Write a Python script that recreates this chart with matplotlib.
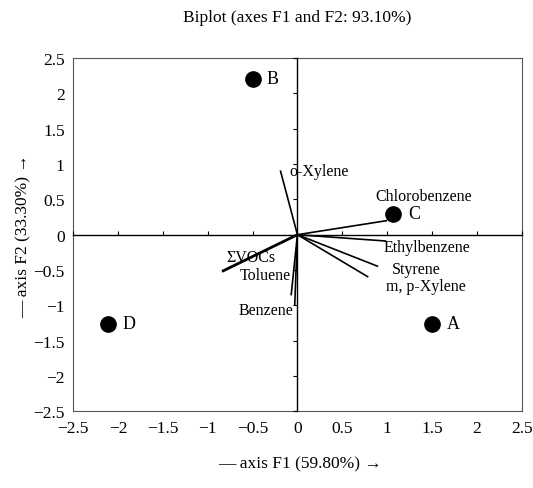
import matplotlib
matplotlib.use("Agg")
import matplotlib.pyplot as plt

plt.rcParams["font.family"] = ["Liberation Serif", "DejaVu Serif"]

# --- observations (scores) ---------------------------------------------
obs_names = ["A", "B", "C", "D"]
obs_f1 = [1.50, -0.50, 1.07, -2.11]
obs_f2 = [-1.26, 2.21, 0.30, -1.26]

# --- variables (loadings) ----------------------------------------------
var_names = ["o-Xylene", "Chlorobenzene", "Ethylbenzene", "Styrene",
             "m, p-Xylene", "ΣVOCs", "Toluene", "Benzene"]
var_f1 = [-0.19, 1.00, 0.99, 0.90, 0.79, -0.84, -0.07, -0.03]
var_f2 = [0.91, 0.20, -0.09, -0.45, -0.60, -0.52, -0.86, -1.00]
var_width = [1.2, 1.2, 1.2, 1.2, 1.2, 2.0, 1.2, 1.2]

ticks = [-2.5, -2, -1.5, -1, -0.5, 0, 0.5, 1, 1.5, 2, 2.5]
tick_labels = ["−2.5", "−2", "−1.5", "−1", "−0.5", "0", "0.5", "1", "1.5", "2", "2.5"]

# label placement (data coords, ha)
var_label_pos = {
    "o-Xylene": (-0.09, 0.90, "left"),
    "Chlorobenzene": (0.87, 0.55, "left"),
    "Ethylbenzene": (0.96, -0.17, "left"),
    "Styrene": (1.05, -0.48, "left"),
    "m, p-Xylene": (0.99, -0.73, "left"),
    "ΣVOCs": (-0.24, -0.31, "right"),
    "Toluene": (-0.07, -0.57, "right"),
    "Benzene": (-0.04, -1.06, "right"),
}

fig = plt.figure(figsize=(5.33, 4.89), dpi=100)
rect = [0.137, 0.157, 0.842, 0.722]
ax = fig.add_axes(rect)
ax.set_xlim(-2.5, 2.5)
ax.set_ylim(-2.5, 2.5)
ax.set_xticks(ticks)
ax.set_xticklabels(tick_labels)
ax.set_yticks(ticks)
ax.set_yticklabels(tick_labels)
ax.tick_params(length=0, labelsize=12.5, pad=6)
for s in ax.spines.values():
    s.set_color("#555555")
    s.set_linewidth(0.8)
    s.set_linestyle((0, (3, 1)))

# overlay axes with spines through the origin
ax0 = fig.add_axes(rect, sharex=ax, sharey=ax)
ax0.patch.set_visible(False)
ax0.spines["top"].set_visible(False)
ax0.spines["right"].set_visible(False)
ax0.spines["left"].set_position(("data", 0))
ax0.spines["bottom"].set_position(("data", 0))
ax0.spines["left"].set_linewidth(1.0)
ax0.spines["bottom"].set_linewidth(1.0)
ax0.tick_params(axis="x", direction="in", length=3, labelbottom=False)
ax0.tick_params(axis="y", direction="out", length=3, labelleft=False)

for name, x, y, w in zip(var_names, var_f1, var_f2, var_width):
    ax0.plot([0, x], [0, y], color="black", lw=w, solid_capstyle="butt")
    lx, ly, ha = var_label_pos[name]
    ax0.text(lx, ly, name, ha=ha, va="center", fontsize=11.5)

ax0.plot(obs_f1, obs_f2, "o", color="black", markersize=11)
for name, x, y in zip(obs_names, obs_f1, obs_f2):
    ax0.text(x + 0.16, y, name, ha="left", va="center", fontsize=13)

fig.text(0.557, 0.963, "Biplot (axes F1 and F2: 93.10%)", ha="center",
         va="center", fontsize=12.5)
fig.text(0.563, 0.051, "— axis F1 (59.80%) →", ha="center", va="center",
         fontsize=12.5)
fig.text(0.044, 0.518, "— axis F2 (33.30%) →", ha="center", va="center",
         fontsize=12.5, rotation=90)

fig.savefig("out.png", dpi=100)
